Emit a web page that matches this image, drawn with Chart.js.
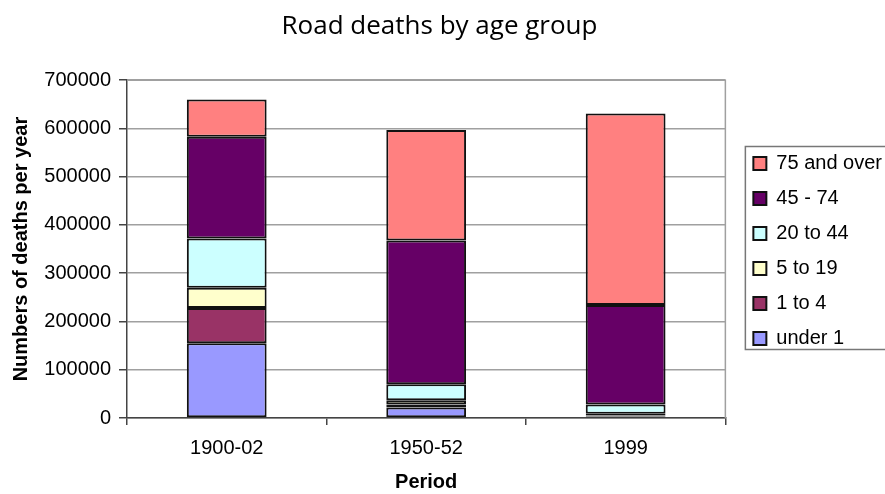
<!DOCTYPE html>
<html>
<head>
<meta charset="utf-8">
<script src="https://cdn.jsdelivr.net/npm/chart.js@4"></script>
<style>
 html,body{margin:0;padding:0;background:#fff}
 #wrap{width:885px;height:494px}
</style>
</head>
<body>
<div id="wrap"><canvas id="chart"></canvas></div>
<script>
/* ========= DATA ========= */

const periods=["1900-02","1950-52","1999"]
const ageGroups=["under 1","1 to 4","5 to 19","20 to 44","45 - 74","75 and over"]
const under1=[155000,22000,3000]
const age1to4=[73000,6000,2000]
const age5to19=[42000,9000,4000]
const age20to44=[102000,33000,19000]
const age45to74=[211000,298000,206000]
const age75plus=[77000,229000,397000]
const yTicks=[0,100000,200000,300000,400000,500000,600000,700000]

const series=[under1,age1to4,age5to19,age20to44,age45to74,age75plus]
const colors=["#9999FF","#993366","#FFFFCC","#CCFFFF","#660066","#FF8080"]

/* ========= PLUGINS ========= */

// gray frame round the plot area, like the excel chart
const plotFrame={
 id:"plotFrame",
 beforeDatasetsDraw(c){
   const a=c.chartArea,ctx=c.ctx
   ctx.save()
   ctx.strokeStyle="#a0a0a0"
   ctx.lineWidth=1.5
   ctx.beginPath()
   ctx.moveTo(a.left,a.top)
   ctx.lineTo(a.right,a.top)
   ctx.lineTo(a.right,a.bottom)
   ctx.stroke()
   ctx.restore()
 }
}

// nudge the legend a bit right/down of where it lands, then frame it
const legendBox={
 id:"legendBox",
 afterLayout(c){
   const l=c.legend
   if(!l) return
   l.left+=13; l.right+=13
   l.top+=4; l.bottom+=4
 },
 afterDraw(c){
   const hb=c.legend&&c.legend.legendHitBoxes
   if(!hb||!hb.length) return
   const left=Math.min(...hb.map(h=>h.left))-8
   const top=Math.min(...hb.map(h=>h.top))-7
   const bottom=Math.max(...hb.map(h=>h.top+h.height))+1
   const ctx=c.ctx
   ctx.save()
   ctx.strokeStyle="#777"
   ctx.lineWidth=1.5
   ctx.strokeRect(left,top,c.width+20-left,bottom-top)
   ctx.restore()
 }
}

/* ========= CHART ========= */

const arial="'Liberation Sans', Arial, sans-serif"

new Chart(document.getElementById("chart"),{
 type:"bar",
 data:{
   labels:periods,
   datasets:series.map((d,i)=>({
     label:ageGroups[i],
     data:d,
     backgroundColor:colors[i],
     borderColor:"#111",
     borderWidth:2,
     borderSkipped:false,
     categoryPercentage:1,
     barPercentage:0.4
   }))
 },
 options:{
   responsive:true,
   maintainAspectRatio:false,
   animation:false,
   layout:{padding:{left:0,right:6,top:0,bottom:0}},
   plugins:{
     title:{
       display:true,
       text:"Road deaths by age group",
       color:"#000",
       font:{family:"'Open Sans', sans-serif",size:26,weight:"normal"},
       padding:{top:11,bottom:38}
     },
     legend:{
       position:"right",
       reverse:true,
       labels:{
         color:"#000",
         font:{family:arial,size:20},
         boxWidth:13,
         boxHeight:13,
         padding:15
       }
     },
     tooltip:{enabled:false}
   },
   scales:{
     x:{
       stacked:true,
       grid:{display:true,drawOnChartArea:false,drawTicks:true,tickLength:7,color:"#444",lineWidth:1.5,offset:true},
       border:{color:"#444",width:1.5},
       ticks:{color:"#000",font:{family:arial,size:20},padding:11},
       title:{display:true,text:"Period",color:"#000",font:{family:arial,size:20,weight:"bold"},padding:{top:4,bottom:0}},
       afterFit(s){s.height=76}
     },
     y:{
       stacked:true,
       min:0,max:700000,
       afterBuildTicks(s){s.ticks=yTicks.map(v=>({value:v}))},
       grid:{color:"#a0a0a0",lineWidth:1.5,tickLength:8,tickColor:"#444"},
       border:{color:"#444",width:1.5},
       ticks:{color:"#000",font:{family:arial,size:20},padding:8,callback:v=>String(v)},
       title:{display:true,text:"Numbers of deaths per year",color:"#000",font:{family:arial,size:20,weight:"bold"},padding:{top:9,bottom:0}},
       afterFit(s){s.width=127}
     }
   }
 },
 plugins:[plotFrame,legendBox]
})
</script>
</body>
</html>
